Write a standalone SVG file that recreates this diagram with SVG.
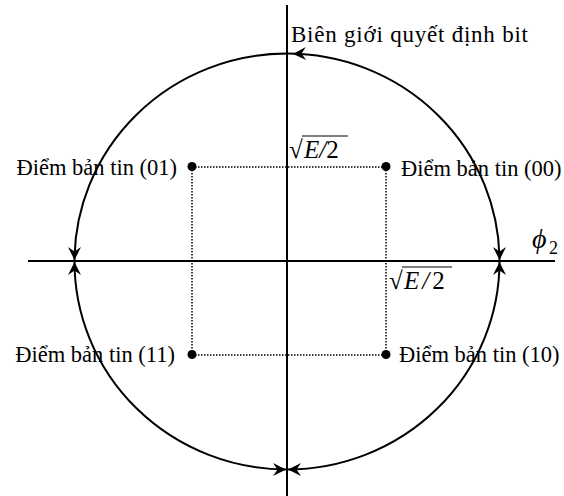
<svg xmlns="http://www.w3.org/2000/svg" width="564" height="496" viewBox="0 0 564 496">
<style>
text{font-family:"Liberation Serif","Times New Roman",serif;fill:#000}
.lbl{font-size:22.5px}
.ax{stroke:#000;stroke-width:2;fill:none}
.dot{stroke:#000;stroke-width:1.5;stroke-dasharray:1.5 1.5;fill:none}
.math{font-size:25px}
</style>
<defs>
<path id="ah" d="M0,0 L-13,-6.5 L-8.5,0 L-13,6.5 Z" fill="#000"/>
</defs>
<g id="axes">
<line class="ax" x1="28" y1="261" x2="555" y2="261"/>
<line class="ax" x1="287" y1="5" x2="287" y2="496"/>
</g>
<g id="boundary">
<ellipse class="ax" cx="287" cy="261.5" rx="212.5" ry="208"/>
<use href="#ah" transform="translate(293,54) rotate(178)"/>
<use href="#ah" transform="translate(74.5,260) rotate(90)"/>
<use href="#ah" transform="translate(74.5,262) rotate(-90)"/>
<use href="#ah" transform="translate(499.5,260) rotate(90)"/>
<use href="#ah" transform="translate(499.5,262) rotate(-90)"/>
<use href="#ah" transform="translate(286,469.5) rotate(0)"/>
<use href="#ah" transform="translate(288,469.5) rotate(180)"/>
<text x="291" y="42" font-size="23" textLength="237" lengthAdjust="spacing">Biên giới quyết định bit</text>
</g>
<g id="connectors">
<line class="dot" x1="192" y1="167" x2="386" y2="167"/>
<line class="dot" x1="192" y1="355" x2="386" y2="355"/>
<line class="dot" x1="192" y1="167" x2="192" y2="355"/>
<line class="dot" x1="386" y1="167" x2="386" y2="355"/>
</g>
<g id="m01">
<circle cx="192" cy="166.5" r="4.5"/>
<text class="lbl" x="177" y="175" text-anchor="end">Điểm bản tin (01)</text>
</g>
<g id="m00">
<circle cx="386" cy="166.5" r="4.5"/>
<text class="lbl" x="401" y="176">Điểm bản tin (00)</text>
</g>
<g id="m11">
<circle cx="192" cy="354.5" r="4.5"/>
<text class="lbl" x="175" y="362" text-anchor="end">Điểm bản tin (11)</text>
</g>
<g id="m10">
<circle cx="386" cy="354.5" r="4.5"/>
<text class="lbl" x="399" y="362">Điểm bản tin (10)</text>
</g>
<g id="sqrt-top">
<text class="math" x="289" y="158">√</text>
<line x1="302" y1="136" x2="348" y2="136" stroke="#000" stroke-width="1.2"/>
<text class="math" x="304" y="158"><tspan font-style="italic">E</tspan><tspan font-style="italic">/</tspan>2</text>
</g>
<g id="sqrt-bottom">
<text class="math" x="389" y="289">√</text>
<line x1="402" y1="267" x2="452" y2="267" stroke="#000" stroke-width="1.2"/>
<text class="math" x="404" y="289"><tspan font-style="italic">E</tspan><tspan font-style="italic" dx="3">/</tspan><tspan dx="3">2</tspan></text>
</g>
<g id="phi2">
<text x="532" y="248" font-size="28" font-style="italic">ϕ</text>
<text x="549" y="254" font-size="18">2</text>
</g>
</svg>
